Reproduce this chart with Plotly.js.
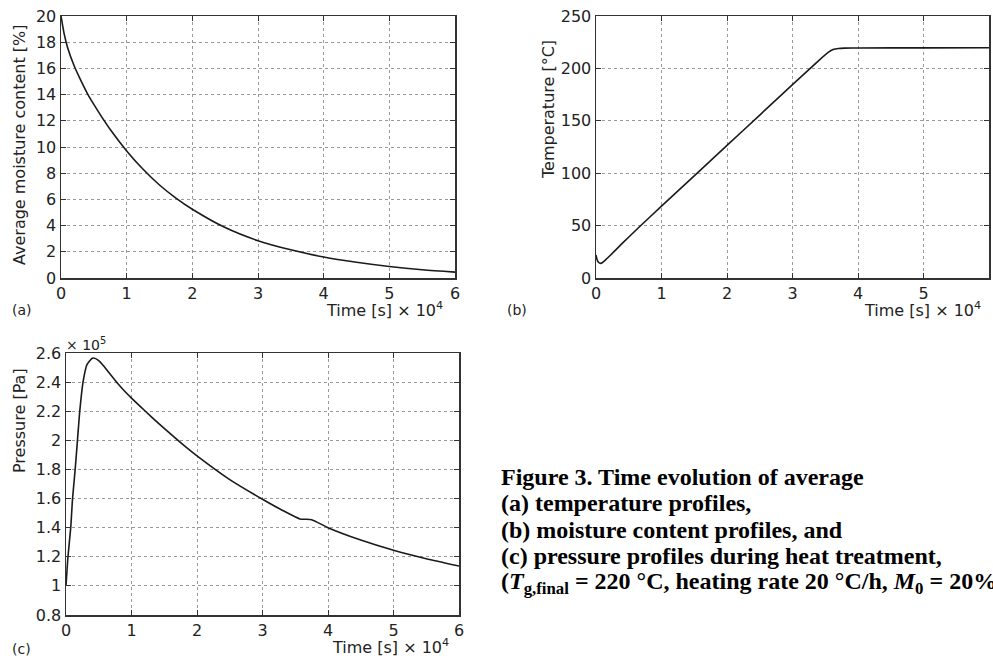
<!DOCTYPE html>
<html>
<head>
<meta charset="utf-8">
<script src="https://cdn.plot.ly/plotly-3.0.1.min.js"></script>
<style>html,body{margin:0;padding:0;background:#fff;}#chart{width:993px;height:658px;}</style>
</head>
<body>
<div id="chart"></div>
<script>
// (a) average moisture content [%] vs time [s] x 10^4
const tMoist = [0, 0.05, 0.1, 0.2, 0.3, 0.4, 0.5, 0.6, 0.75, 1, 1.25, 1.5, 1.75, 2, 2.5, 3, 3.5, 4, 4.5, 5, 5.5, 6];
const moisture = [20, 18.6, 17.6, 16.2, 15.1, 14.1, 13.25, 12.45, 11.33, 9.7, 8.3, 7.1, 6.1, 5.25, 3.85, 2.85, 2.15, 1.6, 1.2, 0.88, 0.63, 0.45];

// (b) temperature [°C] vs time [s] x 10^4
const tTemp = [0, 0.01, 0.03, 0.07, 0.1, 0.15, 0.2, 0.4, 0.64, 1, 1.5, 2, 2.5, 3, 3.4, 3.55, 3.62, 3.7, 3.8, 4, 5, 6];
const temperature = [22, 19, 15.5, 14, 14.8, 17.5, 20.5, 33, 47.5, 68.5, 97.5, 126.5, 155.5, 184.5, 207.5, 215.5, 218, 219, 219.3, 219.5, 219.6, 219.7];

// (c) pressure [Pa] x 10^5 vs time [s] x 10^4
const tPress = [0, 0.03, 0.072, 0.10, 0.14, 0.175, 0.21, 0.26, 0.32, 0.41, 0.5, 0.6, 0.7, 0.8, 0.9, 1, 1.2, 1.4, 1.6, 1.8, 2, 2.5, 3, 3.3, 3.57, 3.65, 3.75, 4, 4.5, 5, 5.5, 6];
const pressure = [1.0, 1.2, 1.4, 1.6, 1.8, 2.0, 2.2, 2.4, 2.52, 2.565, 2.548, 2.497, 2.44, 2.385, 2.335, 2.29, 2.205, 2.122, 2.042, 1.965, 1.893, 1.73, 1.595, 1.52, 1.46, 1.458, 1.455, 1.40, 1.315, 1.245, 1.187, 1.137];

const xTicks = [0, 1, 2, 3, 4, 5, 6];
const moistTicks = [0, 2, 4, 6, 8, 10, 12, 14, 16, 18, 20];
const tempTicks = [0, 50, 100, 150, 200, 250];
const pressTicks = [0.8, 1, 1.2, 1.4, 1.6, 1.8, 2, 2.2, 2.4, 2.6];

const captionLines = [
  'Figure 3. Time evolution of average',
  '(a) temperature profiles,',
  '(b) moisture content profiles, and',
  '(c) pressure profiles during heat treatment,',
  '(<i>T</i><sub>g,final</sub> = 220 °C, heating rate 20 °C/h, <i>M</i><sub>0</sub> = 20%)'
];

const W = 993, H = 658;
const px = v => v / W;
const py = v => 1 - v / H;

const lineStyle = {color: '#1a1a1a', width: 1.6};
const traces = [
  {x: tMoist, y: moisture, xaxis: 'x', yaxis: 'y', mode: 'lines', line: Object.assign({shape: 'spline', smoothing: 0.8}, lineStyle)},
  {x: tTemp, y: temperature, xaxis: 'x2', yaxis: 'y2', mode: 'lines', line: Object.assign({shape: 'spline', smoothing: 0.5}, lineStyle)},
  {x: tPress, y: pressure, xaxis: 'x3', yaxis: 'y3', mode: 'lines', line: Object.assign({shape: 'spline', smoothing: 0.6}, lineStyle)}
];

const FAM = 'DejaVu Sans, Liberation Sans, Arial, sans-serif';
const tickFont = {family: FAM, size: 16, color: '#222'};
function ax(extra) {
  return Object.assign({
    showline: true, mirror: 'ticks', linecolor: '#333', linewidth: 1.5,
    ticks: 'inside', ticklen: 5, tickcolor: '#333', tickwidth: 1,
    showgrid: true, gridcolor: '#9a9a9a', griddash: 'dot', gridwidth: 1,
    zeroline: false, tickfont: tickFont, fixedrange: true
  }, extra);
}

const layout = {
  width: W, height: H,
  margin: {l: 0, r: 0, t: 0, b: 0},
  paper_bgcolor: '#fff', plot_bgcolor: '#fff',
  showlegend: false,
  xaxis: ax({domain: [px(61), px(455)], range: [0, 6], tickvals: xTicks, anchor: 'y'}),
  yaxis: ax({domain: [py(278), py(16)], range: [0, 20], tickvals: moistTicks, anchor: 'x'}),
  xaxis2: ax({domain: [px(596), px(989)], range: [0, 6], tickvals: xTicks, anchor: 'y2'}),
  yaxis2: ax({domain: [py(278), py(16)], range: [0, 250], tickvals: tempTicks, anchor: 'x2'}),
  xaxis3: ax({domain: [px(66), px(459)], range: [0, 6], tickvals: xTicks, anchor: 'y3'}),
  yaxis3: ax({domain: [py(615), py(353)], range: [0.8, 2.6], tickvals: pressTicks, anchor: 'x3'}),
  annotations: []
};

const labFont = {family: FAM, size: 16, color: '#222'};
function ann(text, x, y, opts) {
  layout.annotations.push(Object.assign({
    text: text, x: px(x), y: py(y), xref: 'paper', yref: 'paper',
    showarrow: false, font: labFont, xanchor: 'center', yanchor: 'middle'
  }, opts || {}));
}
// axis titles
ann('Average moisture content [%]', 20, 145, {textangle: -90});
ann('Temperature [°C]', 549, 110, {textangle: -90});
ann('Pressure [Pa]', 19, 421, {textangle: -90});
ann('Time [s] × 10<sup>4</sup>', 445, 309, {xanchor: 'right'});
ann('Time [s] × 10<sup>4</sup>', 983, 309, {xanchor: 'right'});
ann('Time [s] × 10<sup>4</sup>', 451, 646, {xanchor: 'right'});
ann('× 10<sup>5</sup>', 64, 344, {xanchor: 'left', font: {family: FAM, size: 14, color: '#222'}});
// panel letters
ann('(a)', 10, 310, {xanchor: 'left', font: {family: FAM, size: 14, color: '#222'}});
ann('(b)', 505, 310, {xanchor: 'left', font: {family: FAM, size: 14, color: '#222'}});
ann('(c)', 10, 649, {xanchor: 'left', font: {family: FAM, size: 14, color: '#222'}});
// caption
const capY = [477, 503, 530, 556, 583];
captionLines.forEach((s, i) => {
  ann('<b>' + s + '</b>', 499, capY[i], {xanchor: 'left',
    font: {family: 'Liberation Serif, Times New Roman, serif', size: 24, color: '#000'}});
});

Plotly.newPlot('chart', traces, layout, {displayModeBar: false, staticPlot: true});
</script>
</body>
</html>
